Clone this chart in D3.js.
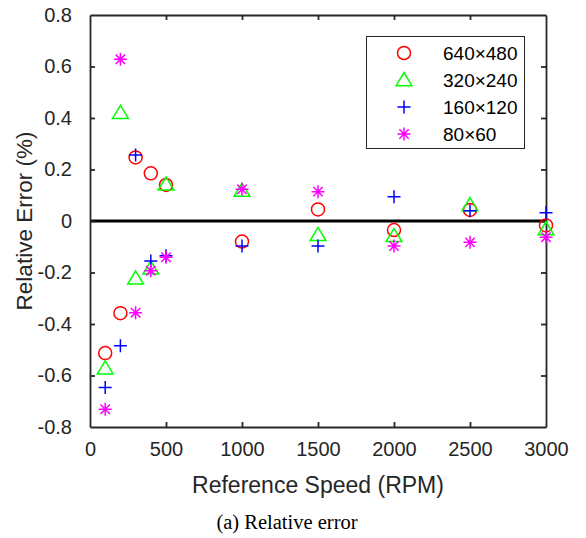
<!DOCTYPE html>
<html>
<head>
<meta charset="utf-8">
<script src="https://cdn.jsdelivr.net/npm/d3@7"></script>
<style>
  html, body { margin: 0; padding: 0; background: #fff; }
  svg { display: block; }
</style>
</head>
<body>
<svg id="chart" width="586" height="538"></svg>
<script>
// ---- data ----
const speeds = [100, 200, 300, 400, 500, 1000, 1500, 2000, 2500, 3000];
const res640 = [-0.513, -0.358, 0.247, 0.185, 0.140, -0.080, 0.045, -0.035, 0.043, -0.017];
const res320 = [-0.572, 0.420, -0.223, -0.184, 0.142, 0.118, -0.054, -0.058, 0.062, -0.032];
const res160 = [-0.647, -0.484, 0.256, -0.155, -0.135, -0.097, -0.097, 0.094, 0.040, 0.032];
const res80  = [-0.731, 0.628, -0.356, -0.193, -0.141, 0.123, 0.114, -0.097, -0.083, -0.063];
const seriesNames = ["640×480", "320×240", "160×120", "80×60"];
const xTicks = [0, 500, 1000, 1500, 2000, 2500, 3000];
const yTicks = [-0.8, -0.6, -0.4, -0.2, 0, 0.2, 0.4, 0.6, 0.8];

const seriesValues = [res640, res320, res160, res80];
const colors = ["#ff0000", "#00ff00", "#0000ff", "#ff00ff"];
const shapes = ["circle", "triangle", "plus", "star"];

const svg = d3.select("#chart");
const L = 90, R = 546, T = 15, B = 427;
const x = d3.scaleLinear().domain([0, 3000]).range([L, R]);
const y = d3.scaleLinear().domain([-0.8, 0.8]).range([B, T]);
const axisColor = "#262626";
const font = "Arial, 'Liberation Sans', Helvetica, sans-serif";

// zero line
svg.append("line")
  .attr("x1", x(0)).attr("x2", x(3000))
  .attr("y1", y(0)).attr("y2", y(0))
  .attr("stroke", "#000").attr("stroke-width", 3.2);

// axes
const tickLen = 5;
const gx = svg.append("g").attr("transform", `translate(0,${B})`)
  .call(d3.axisBottom(x).tickValues(xTicks).tickSizeInner(-tickLen).tickSizeOuter(0).tickPadding(15).tickFormat(d3.format("d")));
const gxTop = svg.append("g").attr("transform", `translate(0,${T})`)
  .call(d3.axisTop(x).tickValues(xTicks).tickSizeInner(-tickLen).tickSizeOuter(0).tickFormat(""));
const gy = svg.append("g").attr("transform", `translate(${L},0)`)
  .call(d3.axisLeft(y).tickValues(yTicks).tickSizeInner(-tickLen).tickSizeOuter(0).tickPadding(18)
    .tickFormat(d => d === 0 ? "0" : d3.format(".1f")(d).replace("−", "-")));
const gyRight = svg.append("g").attr("transform", `translate(${R},0)`)
  .call(d3.axisRight(y).tickValues(yTicks).tickSizeInner(-tickLen).tickSizeOuter(0).tickFormat(""));

[gx, gxTop, gy, gyRight].forEach(g => {
  g.select(".domain").attr("stroke", axisColor).attr("stroke-width", 1.8);
  g.selectAll(".tick line").attr("stroke", axisColor).attr("stroke-width", 1.8);
  g.selectAll(".tick text").attr("fill", "#262626").attr("font-family", font).attr("font-size", 20);
});
// hide edge ticks overlapping the corners
gy.selectAll(".tick line").filter(d => d === -0.8 || d === 0.8).remove();
gyRight.selectAll(".tick line").filter(d => d === -0.8 || d === 0.8).remove();
gx.selectAll(".tick line").filter(d => d === 0 || d === 3000).remove();
gxTop.selectAll(".tick line").filter(d => d === 0 || d === 3000).remove();

// axis titles
svg.append("text")
  .attr("x", (L + R) / 2).attr("y", 493)
  .attr("text-anchor", "middle")
  .attr("font-family", font).attr("font-size", 23).attr("fill", "#262626")
  .text("Reference Speed (RPM)");
svg.append("text")
  .attr("transform", `translate(32,${(T + B) / 2}) rotate(-90)`)
  .attr("text-anchor", "middle")
  .attr("font-family", font).attr("font-size", 22.5).attr("fill", "#262626")
  .text("Relative Error (%)");

// caption
svg.append("text")
  .attr("x", 287).attr("y", 529)
  .attr("text-anchor", "middle")
  .attr("font-family", "'Liberation Serif', 'Times New Roman', serif").attr("font-size", 20.5).attr("fill", "#000")
  .text("(a) Relative error");

// marker drawing
function drawMarker(g, shape, color, cx, cy) {
  const sw = 1.5;
  if (shape === "circle") {
    g.append("circle").attr("cx", cx).attr("cy", cy).attr("r", 6.5)
      .attr("fill", "none").attr("stroke", color).attr("stroke-width", sw);
  } else if (shape === "triangle") {
    const h = 7.5;
    g.append("path")
      .attr("d", `M${cx},${cy - h} L${cx + h * 1.05},${cy + h * 0.75} L${cx - h * 1.05},${cy + h * 0.75} Z`)
      .attr("fill", "none").attr("stroke", color).attr("stroke-width", sw);
  } else if (shape === "plus") {
    const s = 6.5;
    g.append("path")
      .attr("d", `M${cx - s},${cy} H${cx + s} M${cx},${cy - s} V${cy + s}`)
      .attr("fill", "none").attr("stroke", color).attr("stroke-width", sw);
  } else if (shape === "star") {
    const s = 6.5, d = s * 0.72;
    g.append("path")
      .attr("d", `M${cx - s},${cy} H${cx + s} M${cx},${cy - s} V${cy + s} M${cx - d},${cy - d} L${cx + d},${cy + d} M${cx - d},${cy + d} L${cx + d},${cy - d}`)
      .attr("fill", "none").attr("stroke", color).attr("stroke-width", sw);
  }
}

const marks = svg.append("g");
seriesValues.forEach((vals, si) => {
  const g = marks.append("g").attr("class", "series-" + si);
  vals.forEach((v, i) => drawMarker(g, shapes[si], colors[si], x(speeds[i]), y(v)));
});

// legend
const lg = svg.append("g");
lg.append("rect").attr("x", 366.5).attr("y", 36.5).attr("width", 158).attr("height", 112)
  .attr("fill", "#fff").attr("stroke", "#262626").attr("stroke-width", 1);
const rowY = [53, 80, 107, 134];
seriesNames.forEach((name, i) => {
  drawMarker(lg, shapes[i], colors[i], 404, rowY[i]);
  lg.append("text").attr("x", 443).attr("y", rowY[i]).attr("dy", "0.35em")
    .attr("font-family", font).attr("font-size", 19).attr("fill", "#000")
    .text(name);
});
</script>
</body>
</html>
